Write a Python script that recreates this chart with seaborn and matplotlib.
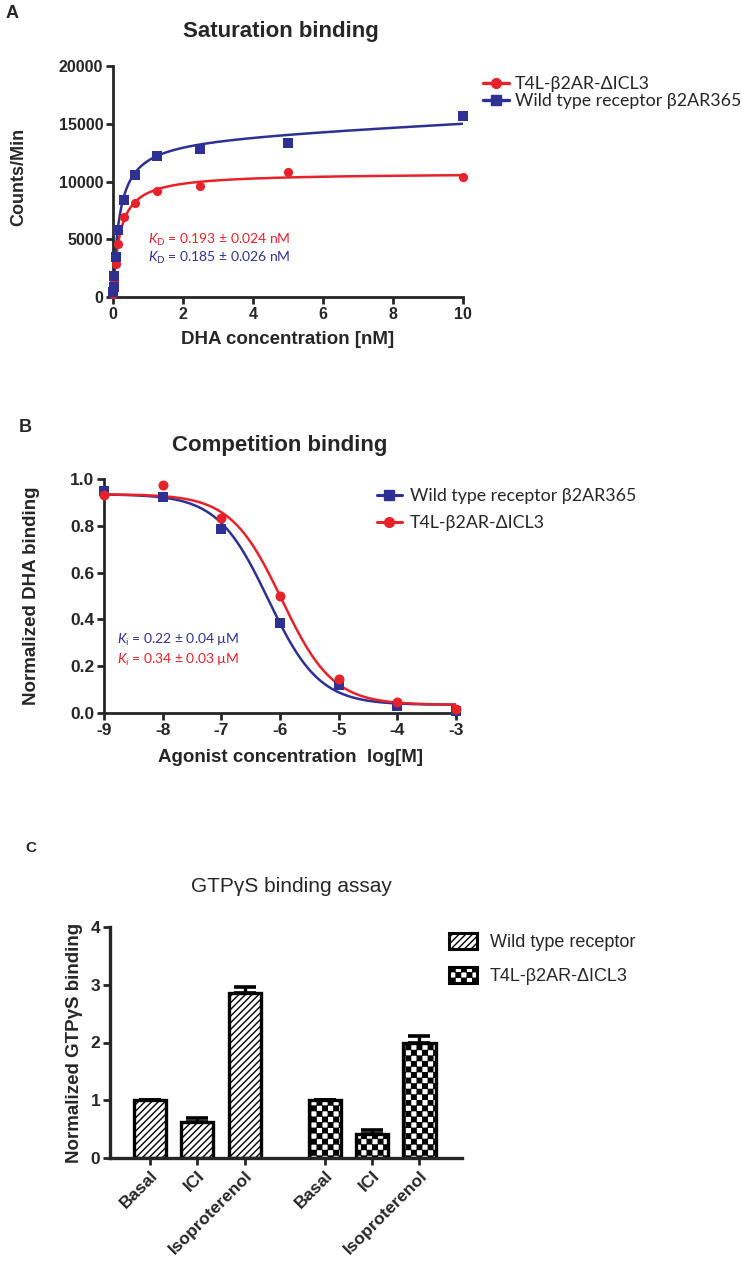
import warnings
import numpy as np
import pandas as pd
import matplotlib
matplotlib.use("Agg")
import matplotlib.pyplot as plt
import matplotlib.hatch as mhatch
from matplotlib.path import Path
from matplotlib.patches import Patch
from matplotlib.lines import Line2D
from matplotlib.legend_handler import HandlerLine2D
from matplotlib.font_manager import FontProperties
import seaborn as sns

warnings.filterwarnings("ignore")

# ---- panel A: saturation binding ----
dha_nM = [0.0098, 0.0195, 0.039, 0.078, 0.156, 0.3125, 0.625, 1.25, 2.5, 5, 10]
t4l_cpm = [300, 700, 1500, 2900, 4600, 6900, 8100, 9200, 9600, 10800, 10400]
wt_cpm = [400, 900, 1800, 3500, 5800, 8400, 10600, 12200, 12800, 13300, 15700]
# fit parameters (Kd from the figure, Bmax / nonspecific)
kd_t4l, bmax_t4l, ns_t4l = 0.193, 10750, 0
kd_wt, bmax_wt, ns_wt = 0.185, 13800, 145

# ---- panel B: competition binding ----
log_agonist = [-9, -8, -7, -6, -5, -4, -3]
wt_norm = [0.95, 0.925, 0.785, 0.385, 0.12, 0.03, 0.01]
t4l_norm = [0.93, 0.975, 0.835, 0.50, 0.145, 0.045, 0.015]
fit_top, fit_bottom = 0.935, 0.035
logic50_wt, logic50_t4l = -6.2, -5.97

# ---- panel C: GTPgS binding ----
conditions = ["Basal", "ICI", "Isoproterenol"]
wt_gtp = [1.0, 0.62, 2.86]
wt_err = [0.0, 0.07, 0.10]
t4l_gtp = [1.0, 0.42, 2.0]
t4l_err = [0.0, 0.06, 0.12]
bar_pos = [0, 1, 2, 3.7, 4.7, 5.7]

RED = "#E8222A"
BLUE = "#2E3192"


# checkerboard hatch ('#'), not built into matplotlib
class CheckerHatch(mhatch.HatchPatternBase):
    def __init__(self, hatch, density):
        n = hatch.count("#") * density
        self.n = n + n % 2
        self.num_vertices = self.n * self.n // 2 * 5

    def set_vertices_and_codes(self, vertices, codes):
        n = self.n
        s = 1.0 / n
        d = 0.005
        k = 0
        for i in range(n):
            for j in range(n):
                if (i + j) % 2 == 0:
                    x0, y0, x1, y1 = i * s + d, j * s + d, (i + 1) * s - d, (j + 1) * s - d
                    vertices[k:k + 5] = [(x0, y0), (x1, y0), (x1, y1), (x0, y1), (x0, y0)]
                    codes[k] = Path.MOVETO
                    codes[k + 1:k + 4] = Path.LINETO
                    codes[k + 4] = Path.CLOSEPOLY
                    k += 5


mhatch._hatch_types.append(CheckerHatch)


class RightMarker(HandlerLine2D):
    def get_xdata(self, legend, xdescent, ydescent, width, height, fontsize):
        return [-xdescent, -xdescent + width], [-xdescent + width * 0.85]


sns.set_style("ticks")
plt.rcParams["font.family"] = ["Liberation Sans", "DejaVu Sans"]
plt.rcParams["mathtext.fontset"] = "custom"
plt.rcParams["mathtext.rm"] = "Lato"
plt.rcParams["mathtext.it"] = "Lato:italic"
plt.rcParams["hatch.linewidth"] = 1.0

W, H = 742, 1265
fig = plt.figure(figsize=(W / 100, H / 100), dpi=100)


def box(l, t, r, b):
    return [l / W, 1 - b / H, (r - l) / W, (b - t) / H]


def style_axis(ax, size=11.5):
    for s in ["top", "right"]:
        ax.spines[s].set_visible(False)
    for s in ["left", "bottom"]:
        ax.spines[s].set_linewidth(2)
    ax.tick_params(direction="out", length=5, width=2, labelsize=size, pad=2)
    for lbl in ax.get_xticklabels() + ax.get_yticklabels():
        lbl.set_fontweight("bold")


calibri = ["Lato", "DejaVu Sans"]

# ================= A =================
axA = fig.add_axes(box(113, 66, 463, 297))
xf = np.linspace(0, 10, 500)
sns.lineplot(x=xf, y=bmax_t4l * xf / (kd_t4l + xf) + ns_t4l * xf, color=RED, lw=1.8, ax=axA)
sns.lineplot(x=xf, y=bmax_wt * xf / (kd_wt + xf) + ns_wt * xf, color=BLUE, lw=1.8, ax=axA)
sns.scatterplot(x=dha_nM, y=t4l_cpm, marker="o", s=44, color=RED, linewidth=0,
                clip_on=False, zorder=3, ax=axA)
sns.scatterplot(x=dha_nM, y=wt_cpm, marker="s", s=50, color=BLUE, linewidth=0,
                clip_on=False, zorder=4, ax=axA)
axA.set_xlim(0, 10)
axA.set_ylim(0, 20000)
axA.set_xticks([0, 2, 4, 6, 8, 10])
axA.set_yticks([0, 5000, 10000, 15000, 20000])
style_axis(axA, 11.5)
axA.set_xlabel("DHA concentration [nM]", fontsize=13.5, fontweight="bold", va="center")
axA.xaxis.set_label_coords(0.5, -0.185)
axA.set_ylabel("Counts/Min", fontsize=13, fontweight="bold", va="center")
axA.yaxis.set_label_coords(-0.27, 0.52)
axA.text(0.1, 0.245, r"$K_{\mathrm{D}}$ = 0.193 ± 0.024 nM", color=RED, fontsize=10,
         family=calibri, transform=axA.transAxes, va="center")
axA.text(0.1, 0.167, r"$K_{\mathrm{D}}$ = 0.185 ± 0.026 nM", color=BLUE, fontsize=10,
         family=calibri, transform=axA.transAxes, va="center")
hA = [Line2D([], [], color=RED, marker="o", lw=2.4, ms=7),
      Line2D([], [], color=BLUE, marker="s", lw=2.4, ms=7)]
axA.legend(hA, ["T4L-β2AR-ΔICL3", "Wild type receptor β2AR365"],
           handler_map={Line2D: RightMarker()}, prop=FontProperties(family=calibri, size=12.8),
           loc="upper left", bbox_to_anchor=(474 / W, 1 - 67 / H), bbox_transform=fig.transFigure,
           frameon=False, borderpad=0, handlelength=1.45, handletextpad=0.35, labelspacing=0.05)
fig.text(281 / W, 1 - 32 / H, "Saturation binding", fontsize=16, fontweight="bold",
         ha="center", va="center")
fig.text(12 / W, 1 - 14 / H, "A", fontsize=13, fontweight="bold", ha="center", va="center")

# ================= B =================
axB = fig.add_axes(box(104, 479, 456, 713))
xb = np.linspace(-9, -3, 400)
sns.lineplot(x=xb, y=fit_bottom + (fit_top - fit_bottom) / (1 + 10 ** (xb - logic50_wt)),
             color=BLUE, lw=1.8, ax=axB)
sns.lineplot(x=xb, y=fit_bottom + (fit_top - fit_bottom) / (1 + 10 ** (xb - logic50_t4l)),
             color=RED, lw=1.8, ax=axB)
sns.scatterplot(x=log_agonist, y=wt_norm, marker="s", s=52, color=BLUE, linewidth=0,
                clip_on=False, zorder=3, ax=axB)
sns.scatterplot(x=log_agonist, y=t4l_norm, marker="o", s=52, color=RED, linewidth=0,
                clip_on=False, zorder=4, ax=axB)
axB.set_xlim(-9, -3)
axB.set_ylim(0, 1.0)
axB.set_xticks(log_agonist)
axB.set_xticklabels([str(v).replace("−", "-") for v in log_agonist])
axB.set_yticks([0, 0.2, 0.4, 0.6, 0.8, 1.0])
axB.set_yticklabels(["0.0", "0.2", "0.4", "0.6", "0.8", "1.0"])
style_axis(axB, 12.5)
axB.set_xlabel("Agonist concentration  log[M]", fontsize=13.5, fontweight="bold", va="center")
axB.xaxis.set_label_coords(0.53, -0.19)
axB.set_ylabel("Normalized DHA binding", fontsize=13.5, fontweight="bold", va="center")
axB.yaxis.set_label_coords(-0.205, 0.5)
axB.text(0.037, 0.312, r"$K_{\mathrm{i}}$ = 0.22 ± 0.04 µM", color=BLUE, fontsize=10,
         family=calibri, transform=axB.transAxes, va="center")
axB.text(0.037, 0.226, r"$K_{\mathrm{i}}$ = 0.34 ± 0.03 µM", color=RED, fontsize=10,
         family=calibri, transform=axB.transAxes, va="center")
hB = [Line2D([], [], color=BLUE, marker="s", lw=2.2, ms=7),
      Line2D([], [], color=RED, marker="o", lw=2.2, ms=7)]
axB.legend(hB, ["Wild type receptor β2AR365", "T4L-β2AR-ΔICL3"],
           prop=FontProperties(family=calibri, size=12.8),
           loc="upper left", bbox_to_anchor=(368 / W, 1 - 479 / H), bbox_transform=fig.transFigure,
           frameon=False, borderpad=0, handlelength=1.4, handletextpad=0.45, labelspacing=0.62)
fig.text(280 / W, 1 - 445 / H, "Competition binding", fontsize=16, fontweight="bold",
         ha="center", va="center")
fig.text(25 / W, 1 - 427 / H, "B", fontsize=13, fontweight="bold", ha="center", va="center")

# ================= C =================
axC = fig.add_axes(box(110, 927, 462, 1158))
gtp = pd.DataFrame({
    "pos": bar_pos,
    "value": wt_gtp + t4l_gtp,
    "err": wt_err + t4l_err,
    "receptor": ["wt"] * 3 + ["t4l"] * 3,
})
sns.barplot(data=gtp, x="pos", y="value", native_scale=True, width=0.68, color="white",
            saturation=1, edgecolor="black", linewidth=2.4, errorbar=None, ax=axC)
for p, rec in zip(axC.patches, gtp["receptor"]):
    p.set_hatch("/////" if rec == "wt" else "###")
    p.set_facecolor("white")
axC.errorbar(gtp["pos"], gtp["value"], yerr=[np.zeros(6), gtp["err"]], fmt="none",
             ecolor="black", elinewidth=2.4, capsize=8, capthick=2.6, zorder=1)
axC.set_xlim(-0.85, 6.6)
axC.set_ylim(0, 4)
axC.set_yticks([0, 1, 2, 3, 4])
axC.set_xticks(bar_pos)
axC.set_xticklabels(conditions * 2)
style_axis(axC, 12.5)
for s in ["left", "bottom"]:
    axC.spines[s].set_linewidth(2.4)
for lbl in axC.get_xticklabels():
    lbl.set_rotation(45)
    lbl.set_ha("right")
    lbl.set_rotation_mode("anchor")
axC.set_xlabel("")
axC.set_ylabel("Normalized GTPγS binding", fontsize=13.5, fontweight="bold", va="center")
axC.yaxis.set_label_coords(-0.102, 0.5)
hC = [Patch(facecolor="white", edgecolor="black", hatch="/////", lw=2.2),
      Patch(facecolor="white", edgecolor="black", hatch="###", lw=2.2)]
axC.legend(hC, ["Wild type receptor", "T4L-β2AR-ΔICL3"],
           prop=FontProperties(family=["Liberation Sans Narrow", "Liberation Sans"], size=13),
           loc="upper left", bbox_to_anchor=(440 / W, 1 - 924 / H), bbox_transform=fig.transFigure,
           frameon=False, borderpad=0, handlelength=1.55, handleheight=0.95,
           handletextpad=0.7, labelspacing=0.9)
fig.text(291 / W, 1 - 887 / H, "GTPγS binding assay", fontsize=15,
         family=["Liberation Sans Narrow", "Liberation Sans"], ha="center", va="center")
fig.text(31 / W, 1 - 848 / H, "C", fontsize=11, fontweight="bold", ha="center", va="center")

fig.savefig("out.png", dpi=100)
